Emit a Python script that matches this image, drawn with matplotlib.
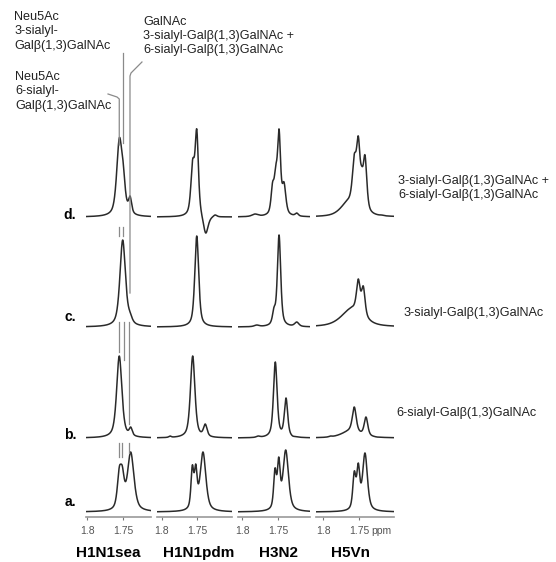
import numpy as np
import matplotlib.pyplot as plt

plt.rcParams['font.family'] = ['Liberation Sans', 'DejaVu Sans']

W, H = 556, 562

panels = ['H1N1sea', 'H1N1pdm', 'H3N2', 'H5Vn']
trace_names = ['a.', 'b.', 'c.', 'd.']
trace_offsets = [5, 79, 190, 300]
tick_values = [1.8, 1.75]
tick_labels = ['1.8', '1.75']

# peaks: (ppm, height of the trace there, fwhm in ppm)
h1n1sea_a = [(1.7558, 45, 0.0065), (1.7516, 46, 0.0065), (1.7401, 60, 0.0105)]
h1n1sea_b = [(1.7558, 82, 0.0085), (1.7401, 11, 0.005)]
h1n1sea_c = [(1.7511, 87, 0.009), (1.7410, 15, 0.007)]
h1n1sea_d = [(1.7558, 79, 0.0085), (1.7505, 55, 0.007), (1.7410, 21, 0.005)]

h1n1pdm_a = [(1.7570, 47, 0.0045), (1.7522, 48, 0.0045), (1.7420, 60, 0.0095)]
h1n1pdm_b = [(1.7565, 82, 0.0075), (1.7388, 14, 0.006), (1.7884, 2, 0.004)]
h1n1pdm_c = [(1.7508, 91, 0.0065)]
h1n1pdm_d = [(1.7565, 58, 0.006), (1.7508, 88, 0.0055), (1.7382, -16, 0.008),
             (1.7250, 2, 0.006)]

h3n2_a = [(1.7546, 44, 0.0045), (1.7494, 55, 0.0045), (1.7397, 62, 0.009)]
h3n2_b = [(1.7542, 76, 0.006), (1.7393, 40, 0.0055), (1.7300, 2, 0.004),
          (1.7780, 2, 0.006)]
h3n2_c = [(1.7560, 20, 0.005), (1.7490, 92, 0.0055), (1.7244, 5, 0.007),
          (1.7800, 2, 0.008)]
h3n2_d = [(1.7580, 35, 0.005), (1.7536, 52, 0.005), (1.7490, 88, 0.005),
          (1.7421, 35, 0.006), (1.7824, 3, 0.01), (1.7244, 4, 0.005)]

h5vn_a = [(1.7566, 41, 0.005), (1.7510, 49, 0.005), (1.7416, 59, 0.008)]
h5vn_b = [(1.7566, 31, 0.0065), (1.7402, 21, 0.006), (1.7620, 12, 0.03),
          (1.7900, 2, 0.005), (1.7250, 1, 0.004)]
h5vn_c = [(1.7510, 48, 0.006), (1.7440, 41, 0.006), (1.7600, 20, 0.035)]
h5vn_d = [(1.7566, 63, 0.0065), (1.7510, 81, 0.006), (1.7462, 51, 0.005),
          (1.7416, 62, 0.006), (1.7654, 18, 0.025), (1.7182, 2, 0.005)]

spectra = [
    [h1n1sea_a, h1n1sea_b, h1n1sea_c, h1n1sea_d],
    [h1n1pdm_a, h1n1pdm_b, h1n1pdm_c, h1n1pdm_d],
    [h3n2_a, h3n2_b, h3n2_c, h3n2_d],
    [h5vn_a, h5vn_b, h5vn_c, h5vn_d],
]

right_labels = ['', '6-sialyl-Galβ(1,3)GalNAc', '3-sialyl-Galβ(1,3)GalNAc',
                '3-sialyl-Galβ(1,3)GalNAc +\n6-sialyl-Galβ(1,3)GalNAc']

# guide lines in the first panel: (ppm list, intensity list)
guides = [
    ([1.7712, 1.7589, 1.7558, 1.7558], [423, 420, 418, 372]),
    ([1.7503, 1.7503], [464, 374]),
    ([1.7247, 1.7397, 1.7411, 1.7411], [455, 444, 441, 224]),
    ([1.7558, 1.7558], [290, 281]),
    ([1.7511, 1.7511], [290, 281]),
    ([1.7558, 1.7558], [195, 165]),
    ([1.7489, 1.7489], [195, 157]),
    ([1.7421, 1.7421], [195, 93]),
    ([1.7558, 1.7558], [74, 60]),
    ([1.7521, 1.7521], [74, 60]),
    ([1.7418, 1.7418], [74, 64]),
]

# layout (pixels)
panel_px = [(86, 151), (157.3, 231.7), (238.3, 310), (315.7, 394.3)]
panel_xlim = [(1.8014, 1.7123), (1.8062, 1.7017), (1.8056, 1.7060), (1.8106, 1.7006)]
title_x = [108, 199, 279, 351]
axis_y, top_y = 517, 10
eta = 0.6  # lorentzian share of the line shape


def line_shape(x, pos, width):
    u = (x - pos) / width
    lor = 1.0 / (1.0 + 4.0 * u ** 2)
    gau = np.exp(-4.0 * np.log(2.0) * u ** 2)
    return eta * lor + (1 - eta) * gau


def spectrum(x, peaks):
    pos = np.array([p[0] for p in peaks])
    hgt = np.array([p[1] for p in peaks], dtype=float)
    wid = np.array([p[2] for p in peaks])
    m = line_shape(pos[:, None], pos[None, :], wid[None, :])
    amp = np.linalg.solve(m, hgt)
    y = np.zeros_like(x)
    for a, p, w in zip(amp, pos, wid):
        y += a * line_shape(x, p, w)
    return y


fig = plt.figure(figsize=(W / 100, H / 100), dpi=100)
axes = []
for n, name in enumerate(panels):
    x0, x1 = panel_px[n]
    ax = fig.add_axes([x0 / W, 1 - axis_y / H, (x1 - x0) / W, (axis_y - top_y) / H])
    ax.set_xlim(*panel_xlim[n])
    ax.set_ylim(0, axis_y - top_y)
    x = np.linspace(panel_xlim[n][0], panel_xlim[n][1], 700)
    for k, peaks in enumerate(spectra[n]):
        ax.plot(x, trace_offsets[k] + spectrum(x, peaks), color='#2a2a2a', lw=1.1)
    for s in ['top', 'left', 'right']:
        ax.spines[s].set_visible(False)
    ax.spines['bottom'].set_color('#999999')
    ax.spines['bottom'].set_linewidth(1.2)
    ax.set_yticks([])
    ax.set_xticks(tick_values)
    ax.set_xticklabels(tick_labels)
    ax.tick_params(axis='x', direction='out', length=2.5, width=0.8, color='#777777',
                   labelsize=7.5, labelcolor='#555555', pad=4)
    ax.patch.set_visible(False)
    fig.text(title_x[n] / W, 1 - 553 / H, name, ha='center', va='center',
             fontsize=11, fontweight='bold')
    axes.append(ax)

axes[3].annotate('ppm', xy=(1.75, 0), xytext=(8.5, -6.5), textcoords='offset points',
                 ha='left', va='top', fontsize=7.5, color='#555555')

for gx, gy in guides:
    axes[0].plot(gx, gy, color='#8a8a8a', lw=0.9, clip_on=False)

# trace letters and right side labels
label_y = [502, 435, 317, 215]
right_x = [0, 396, 403, 398]
right_y = [0, 413, 313, 188]
for k in range(4):
    fig.text(70 / W, 1 - label_y[k] / H, trace_names[k], ha='center', va='center',
             fontsize=10, fontweight='bold')
    if right_labels[k]:
        fig.text(right_x[k] / W, 1 - right_y[k] / H, right_labels[k], ha='left',
                 va='center', fontsize=9.1, color='#222222', linespacing=1.25)

fig.text(14 / W, 1 - 11 / H, 'Neu5Ac\n3-sialyl-\nGalβ(1,3)GalNAc', ha='left', va='top',
         fontsize=9.1, color='#222222', linespacing=1.25)
fig.text(15 / W, 1 - 71 / H, 'Neu5Ac\n6-sialyl-\nGalβ(1,3)GalNAc', ha='left', va='top',
         fontsize=9.1, color='#222222', linespacing=1.25)
fig.text(143 / W, 1 - 16 / H, 'GalNAc\n3-sialyl-Galβ(1,3)GalNAc +\n6-sialyl-Galβ(1,3)GalNAc',
         ha='left', va='top', fontsize=9.1, color='#222222', linespacing=1.25)

fig.savefig('out.png', dpi=100)
